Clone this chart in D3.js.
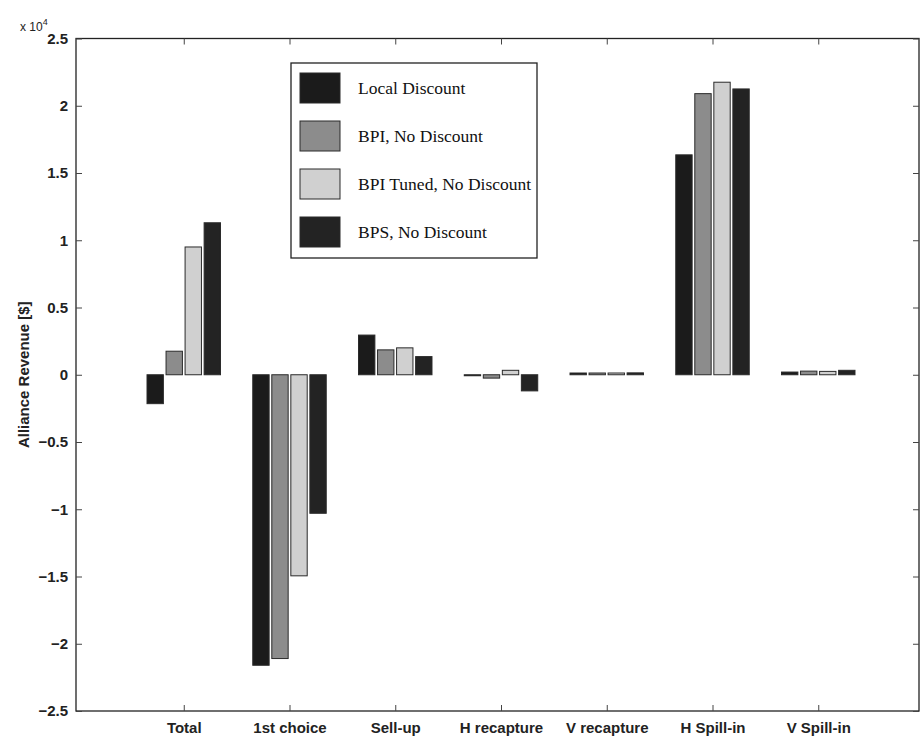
<!DOCTYPE html>
<html><head><meta charset="utf-8">
<script src="https://cdn.jsdelivr.net/npm/d3@7"></script>
<style>body{margin:0;background:#fff;} svg{display:block;}</style>
</head><body>
<svg id="c" width="922" height="738"></svg>
<script>
const categories = ["Total","1st choice","Sell-up","H recapture","V recapture","H Spill-in","V Spill-in"];
const seriesNames = ["Local Discount","BPI, No Discount","BPI Tuned, No Discount","BPS, No Discount"];
const localDiscount = [-2150, -21600, 2950, -50, 130, 16350, 200];
const bpiNoDiscount = [1750, -21100, 1850, -250, 130, 20900, 270];
const bpiTuned = [9500, -14950, 2000, 330, 130, 21750, 250];
const bpsNoDiscount = [11300, -10300, 1350, -1200, 140, 21250, 330];
const yTicks = [-25000,-20000,-15000,-10000,-5000,0,5000,10000,15000,20000,25000];
const yTickLabels = ["\u22122.5","\u22122","\u22121.5","\u22121","\u22120.5","0","0.5","1","1.5","2","2.5"];
const series = [localDiscount, bpiNoDiscount, bpiTuned, bpsNoDiscount];
const fills = ["#1b1b1b","#8c8c8c","#d0d0d0","#232323"];

const svg = d3.select("#c");
const L = 76, R = 919, T = 38.5, B = 711;
const x = d3.scaleLinear().domain([0, 8]).range([L + 2, R + 5]);
const y = d3.scaleLinear().domain([-25000, 25000]).range([B, T]);

const groupW = 0.72, n = 4, pitch = groupW / n, barW = pitch * 0.86;

series.forEach((vals, s) => {
  svg.append("g").selectAll("rect").data(vals).join("rect")
    .attr("x", (d, i) => x(i + 1 - groupW / 2 + s * pitch + (pitch - barW) / 2))
    .attr("width", x(barW) - x(0))
    .attr("y", d => y(Math.max(0, d)))
    .attr("height", d => Math.max(1, Math.abs(y(d) - y(0))))
    .attr("fill", fills[s])
    .attr("stroke", "#2a2a2a").attr("stroke-width", 1);
});

svg.append("rect").attr("x", L).attr("y", T).attr("width", R - L).attr("height", B - T)
  .attr("fill", "none").attr("stroke", "#222").attr("stroke-width", 1.3);

const font = "Liberation Sans, Arial, sans-serif";
const yAxis = d3.axisLeft(y).tickValues(yTicks).tickFormat((d, i) => yTickLabels[i]).tickSizeInner(-6).tickSizeOuter(0).tickPadding(8);
const gy = svg.append("g").attr("transform", `translate(${L},0)`).call(yAxis);
gy.select(".domain").remove();
gy.selectAll("text").attr("font-family", font).attr("font-size", 15).attr("font-weight", "bold").attr("fill", "#222");
gy.selectAll("line").attr("stroke", "#444");
const yAxisR = d3.axisRight(y).tickValues(yTicks).tickFormat("").tickSizeInner(-6).tickSizeOuter(0);
const gyr = svg.append("g").attr("transform", `translate(${R},0)`).call(yAxisR);
gyr.select(".domain").remove(); gyr.selectAll("line").attr("stroke", "#444");

const xAxis = d3.axisBottom(x).tickValues(d3.range(1, 8)).tickFormat((d) => categories[d - 1]).tickSizeInner(-6).tickSizeOuter(0).tickPadding(11);
const gx = svg.append("g").attr("transform", `translate(0,${B})`).call(xAxis);
gx.select(".domain").remove();
gx.selectAll("text").attr("font-family", font).attr("font-size", 15).attr("font-weight", "bold").attr("fill", "#222");
gx.selectAll("line").attr("stroke", "#444");
const xAxisT = d3.axisTop(x).tickValues(d3.range(1, 8)).tickFormat("").tickSizeInner(-6).tickSizeOuter(0);
const gxt = svg.append("g").attr("transform", `translate(0,${T})`).call(xAxisT);
gxt.select(".domain").remove(); gxt.selectAll("line").attr("stroke", "#444");

const ex = svg.append("text").attr("x", 20).attr("y", 31).attr("font-family", font).attr("font-size", 12).attr("fill", "#222");
ex.append("tspan").text("x 10");
ex.append("tspan").attr("dy", -6).attr("font-size", 9).text("4");

svg.append("text").attr("transform", `translate(29,${(T + B) / 2}) rotate(-90)`)
  .attr("text-anchor", "middle").attr("font-family", font).attr("font-size", 15).attr("font-weight", "bold").attr("fill", "#222")
  .text("Alliance Revenue [$]");

const lg = svg.append("g");
lg.append("rect").attr("x", 291).attr("y", 63).attr("width", 246).attr("height", 195)
  .attr("fill", "#fff").attr("stroke", "#222").attr("stroke-width", 1.3);
seriesNames.forEach((nm, i) => {
  const yy = 73 + i * 48;
  lg.append("rect").attr("x", 300).attr("y", yy).attr("width", 40).attr("height", 30)
    .attr("fill", fills[i]).attr("stroke", "#2a2a2a").attr("stroke-width", 1);
  lg.append("text").attr("x", 358).attr("y", yy + 21).attr("font-family", "Liberation Serif, Times New Roman, serif")
    .attr("font-size", 17.5).attr("fill", "#111").text(nm);
});
</script>
</body></html>
